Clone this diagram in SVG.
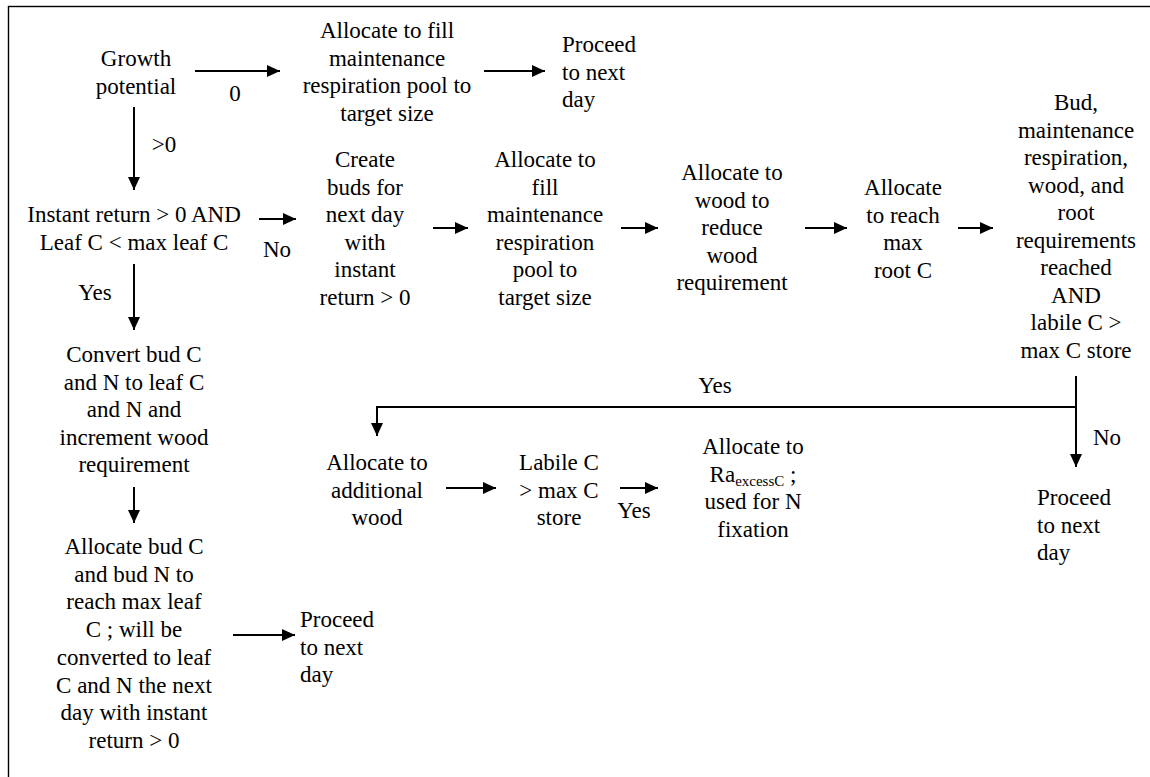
<svg xmlns="http://www.w3.org/2000/svg" width="1150" height="777" viewBox="0 0 1150 777" font-family="'Liberation Serif', Tinos, 'Times New Roman', 'DejaVu Serif', serif">
<style>
text{font-family:'Liberation Serif', Tinos, 'Times New Roman', 'DejaVu Serif', serif;font-size:23px;fill:#000}
.c{text-anchor:middle}
.l{text-anchor:start}
.ln{stroke:#000;stroke-width:2;fill:none}
.sub{font-size:15px}
</style>
<defs>
<marker id="ah" markerUnits="userSpaceOnUse" markerWidth="14" markerHeight="12" refX="13" refY="6" orient="auto">
<path d="M0,0 L13,6 L0,12 Z" fill="#000"/>
</marker>
</defs>
<rect x="8.5" y="6.5" width="1160" height="790" fill="#fff" stroke="#000" stroke-width="1.4"/>
<g id="connectors">
<line class="ln" x1="195" y1="71" x2="280" y2="71" marker-end="url(#ah)"/>
<line class="ln" x1="484" y1="71" x2="545" y2="71" marker-end="url(#ah)"/>
<line class="ln" x1="134" y1="107" x2="134" y2="190" marker-end="url(#ah)"/>
<line class="ln" x1="259" y1="219" x2="296" y2="219" marker-end="url(#ah)"/>
<line class="ln" x1="433" y1="228" x2="468" y2="228" marker-end="url(#ah)"/>
<line class="ln" x1="621" y1="228" x2="658" y2="228" marker-end="url(#ah)"/>
<line class="ln" x1="805" y1="228" x2="847" y2="228" marker-end="url(#ah)"/>
<line class="ln" x1="958" y1="228" x2="993" y2="228" marker-end="url(#ah)"/>
<line class="ln" x1="1076" y1="376" x2="1076" y2="467" marker-end="url(#ah)"/>
<polyline class="ln" points="1076,407 377,407 377,436" marker-end="url(#ah)"/>
<line class="ln" x1="446" y1="488" x2="496" y2="488" marker-end="url(#ah)"/>
<line class="ln" x1="620" y1="488" x2="658" y2="488" marker-end="url(#ah)"/>
<line class="ln" x1="134" y1="264" x2="134" y2="330" marker-end="url(#ah)"/>
<line class="ln" x1="134" y1="487" x2="134" y2="523" marker-end="url(#ah)"/>
<line class="ln" x1="233" y1="635" x2="295" y2="635" marker-end="url(#ah)"/>
<text class="c" x="235" y="101">0</text>
<text class="c" x="164" y="152">&gt;0</text>
<text class="c" x="277" y="257">No</text>
<text class="c" x="95" y="300">Yes</text>
<text class="c" x="715" y="393">Yes</text>
<text class="c" x="1107" y="445">No</text>
<text class="c" x="634" y="518">Yes</text>
</g>
<g id="growth-potential"><text class="c"><tspan x="136" y="66">Growth</tspan><tspan x="136" y="93.5">potential</tspan></text></g>
<g id="fill-maint-1"><text class="c"><tspan x="387" y="38">Allocate to fill</tspan><tspan x="387" y="65.5">maintenance</tspan><tspan x="387" y="93">respiration pool to</tspan><tspan x="387" y="120.5">target size</tspan></text></g>
<g id="proceed-1"><text class="l"><tspan x="562" y="52">Proceed</tspan><tspan x="562" y="79.5">to next</tspan><tspan x="562" y="107">day</tspan></text></g>
<g id="instant-return"><text class="c"><tspan x="134" y="222">Instant return &gt; 0 AND</tspan><tspan x="134" y="250">Leaf C &lt; max leaf C</tspan></text></g>
<g id="create-buds"><text class="c"><tspan x="365" y="167">Create</tspan><tspan x="365" y="194.5">buds for</tspan><tspan x="365" y="222">next day</tspan><tspan x="365" y="249.5">with</tspan><tspan x="365" y="277">instant</tspan><tspan x="365" y="304.5">return &gt; 0</tspan></text></g>
<g id="fill-maint-2"><text class="c"><tspan x="545" y="167">Allocate to</tspan><tspan x="545" y="194.5">fill</tspan><tspan x="545" y="222">maintenance</tspan><tspan x="545" y="249.5">respiration</tspan><tspan x="545" y="277">pool to</tspan><tspan x="545" y="304.5">target size</tspan></text></g>
<g id="wood-req"><text class="c"><tspan x="732" y="180">Allocate to</tspan><tspan x="732" y="207.5">wood to</tspan><tspan x="732" y="235">reduce</tspan><tspan x="732" y="262.5">wood</tspan><tspan x="732" y="290">requirement</tspan></text></g>
<g id="root"><text class="c"><tspan x="903" y="195">Allocate</tspan><tspan x="903" y="222.5">to reach</tspan><tspan x="903" y="250">max</tspan><tspan x="903" y="277.5">root C</tspan></text></g>
<g id="requirements-check"><text class="c"><tspan x="1076" y="110">Bud,</tspan><tspan x="1076" y="137.5">maintenance</tspan><tspan x="1076" y="165">respiration,</tspan><tspan x="1076" y="192.5">wood, and</tspan><tspan x="1076" y="220">root</tspan><tspan x="1076" y="247.5">requirements</tspan><tspan x="1076" y="275">reached</tspan><tspan x="1076" y="302.5">AND</tspan><tspan x="1076" y="330">labile C &gt;</tspan><tspan x="1076" y="357.5">max C store</tspan></text></g>
<g id="proceed-2"><text class="l"><tspan x="1037" y="505">Proceed</tspan><tspan x="1037" y="532.5">to next</tspan><tspan x="1037" y="560">day</tspan></text></g>
<g id="additional-wood"><text class="c"><tspan x="377" y="470">Allocate to</tspan><tspan x="377" y="497.5">additional</tspan><tspan x="377" y="525">wood</tspan></text></g>
<g id="labile-check"><text class="c"><tspan x="559" y="470">Labile C</tspan><tspan x="559" y="497.5">&gt; max C</tspan><tspan x="559" y="525">store</tspan></text></g>
<g id="ra-excess"><text class="c"><tspan x="753" y="454">Allocate to</tspan></text><text class="c" x="753" y="482">Ra<tspan class="sub" dy="4">excessC</tspan><tspan dy="-4"> ;</tspan></text><text class="c"><tspan x="753" y="509">used for N</tspan><tspan x="753" y="536.5">fixation</tspan></text></g>
<g id="convert-bud"><text class="c"><tspan x="134" y="362">Convert bud C</tspan><tspan x="134" y="389.5">and N to leaf C</tspan><tspan x="134" y="417">and N and</tspan><tspan x="134" y="444.5">increment wood</tspan><tspan x="134" y="472">requirement</tspan></text></g>
<g id="allocate-bud"><text class="c"><tspan x="134" y="554">Allocate bud C</tspan><tspan x="134" y="581.7">and bud N to</tspan><tspan x="134" y="609.4">reach max leaf</tspan><tspan x="134" y="637.1">C ; will be</tspan><tspan x="134" y="664.8">converted to leaf</tspan><tspan x="134" y="692.5">C and N the next</tspan><tspan x="134" y="720.2">day with instant</tspan><tspan x="134" y="748">return &gt; 0</tspan></text></g>
<g id="proceed-3"><text class="l"><tspan x="300" y="627">Proceed</tspan><tspan x="300" y="654.5">to next</tspan><tspan x="300" y="682">day</tspan></text></g>
</svg>
